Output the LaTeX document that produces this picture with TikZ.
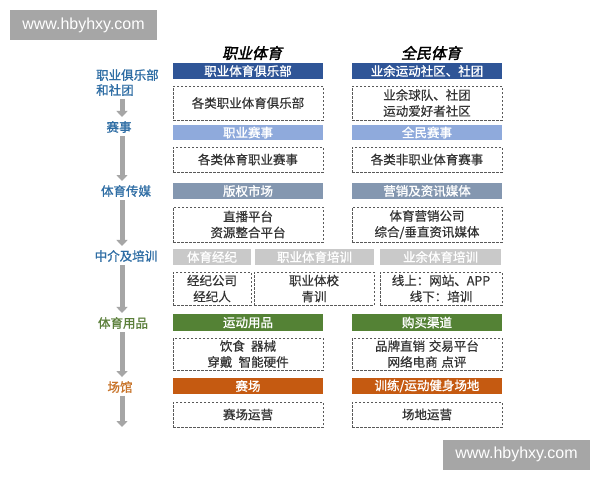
\documentclass[tikz,border=0pt]{standalone}
\usepackage{fontspec}
\setmainfont{Noto Sans CJK SC}
\newfontfamily\latinfont{Liberation Sans}
\newfontfamily\headfont[FakeSlant=0.22,FakeBold=2]{Noto Sans CJK SC}
\newfontfamily\medfont[FakeBold=1.2]{Noto Sans CJK SC}
\newfontfamily\boxfont[FakeBold=0.5]{Noto Sans CJK SC}
\usetikzlibrary{arrows.meta}
\definecolor{dblue}{HTML}{2F5597}
\definecolor{lblue}{HTML}{8FAADC}
\definecolor{gblue}{HTML}{8497B0}
\definecolor{lgray}{HTML}{C9C9C9}
\definecolor{bgreen}{HTML}{548235}
\definecolor{borange}{HTML}{C55A11}
\definecolor{labblue}{HTML}{2E6DA4}
\definecolor{labgreen}{HTML}{5B7F3A}
\definecolor{laborange}{HTML}{C8742A}
\definecolor{arrgray}{HTML}{A6A6A6}
\definecolor{wmgray}{HTML}{A6A6A6}
\definecolor{dashgray}{HTML}{595959}
\definecolor{txtgray}{HTML}{333333}
\tikzset{
  bar/.style={minimum width=150pt, minimum height=16pt, inner sep=0pt, text=white,
    font=\medfont\fontsize{12.5}{14}\selectfont},
  dbox/.style={draw=dashgray, line width=0.9pt, dash pattern=on 2.5pt off 1.5pt,
    minimum width=150pt, inner sep=0pt, align=center, text=txtgray,
    font=\boxfont\fontsize{12.5}{16}\selectfont},
  lab/.style={inner sep=0pt, font=\medfont\fontsize{12.5}{15}\selectfont},
  head/.style={inner sep=0pt, font=\headfont\fontsize{15}{17}\selectfont, text=black},
  flow/.style={draw=arrgray, line width=5pt, -{Triangle[width=11pt,length=6pt]},
    shorten <=3pt, shorten >=4pt},
  wm/.style={fill=wmgray, text=white, minimum width=147pt, minimum height=30pt,
    inner sep=0pt, font=\latinfont\fontsize{16}{18}\selectfont}
}
\begin{document}
\begin{tikzpicture}[x=1pt,y=-1pt]
\useasboundingbox[fill=white] (0,0) rectangle (600,480);

% watermarks
\node[wm] (wm1) at (83.5,25) {www.hbyhxy.com};
\node[wm] (wm2) at (516.5,454.5) {www.hbyhxy.com};

% headers
\node[head] (h1) at (252,53) {职业体育};
\node[head] (h2) at (431,53) {全民体育};

% left labels
\node[lab, text=labblue, align=left, anchor=west] (l1) at (96,82.5) {职业俱乐部\\和社团};
\node[lab, text=labblue] (l2) at (119,127) {赛事};
\node[lab, text=labblue] (l3) at (126,191) {体育传媒};
\node[lab, text=labblue] (l4) at (126,256) {中介及培训};
\node[lab, text=labgreen] (l5) at (123,323) {体育用品};
\node[lab, text=laborange] (l6) at (120,387) {场馆};
\coordinate (lend) at (122,431);

\draw[flow] (l1.south -| lend) -- (l2.north -| lend);
\draw[flow] (l2.south -| lend) -- (l3.north -| lend);
\draw[flow] (l3.south -| lend) -- (l4.north -| lend);
\draw[flow] (l4.south -| lend) -- (l5.north -| lend);
\draw[flow] (l5.south -| lend) -- (l6.north -| lend);
\draw[flow] (l6.south -| lend) -- (lend);

% row 1
\node[bar, fill=dblue] (b1l) at (248,71) {职业体育俱乐部};
\node[bar, fill=dblue] (b1r) at (427,71) {业余运动社区、社团};
\node[dbox, minimum height=34pt] (d1l) at (248,103) {各类职业体育俱乐部};
\node[dbox, minimum height=34pt] (d1r) at (427,103) {业余球队、社团\\运动爱好者社区};

% row 2
\node[bar, fill=lblue, minimum height=15pt] (b2l) at (248,132.5) {职业赛事};
\node[bar, fill=lblue, minimum height=15pt] (b2r) at (427,132.5) {全民赛事};
\node[dbox, minimum height=25pt] (d2l) at (248,159.5) {各类体育职业赛事};
\node[dbox, minimum height=25pt] (d2r) at (427,159.5) {各类非职业体育赛事};

% row 3
\node[bar, fill=gblue] (b3l) at (248,191) {版权市场};
\node[bar, fill=gblue] (b3r) at (427,191) {营销及资讯媒体};
\node[dbox, minimum height=35pt] (d3l) at (248,224.5) {直播平台\\资源整合平台};
\node[dbox, minimum height=35pt] (d3r) at (427,224.5) {体育营销公司\\综合/垂直资讯媒体};

% row 4
\node[bar, fill=lgray, minimum width=78pt] (b4a) at (212,257) {体育经纪};
\node[bar, fill=lgray, minimum width=119pt] (b4b) at (314.5,257) {职业体育培训};
\node[bar, fill=lgray, minimum width=121pt] (b4c) at (440.5,257) {业余体育培训};
\node[dbox, minimum width=78pt, minimum height=33pt] (d4a) at (212,288.5) {经纪公司\\经纪人};
\node[dbox, minimum width=120pt, minimum height=33pt] (d4b) at (314,288.5) {职业体校\\青训};
\node[dbox, minimum width=122pt, minimum height=33pt] (d4c) at (441,288.5) {线上：网站、APP\\线下：培训};

% row 5
\node[bar, fill=bgreen, minimum height=17pt] (b5l) at (248,322.5) {运动用品};
\node[bar, fill=bgreen, minimum height=17pt] (b5r) at (427,322.5) {购买渠道};
\node[dbox, minimum height=32pt] (d5l) at (248,354) {饮食\hspace{0.5em}器械\\穿戴\hspace{0.5em}智能硬件};
\node[dbox, minimum height=32pt] (d5r) at (427,354) {品牌直销\hspace{0.3em}交易平台\\网络电商\hspace{0.3em}点评};

% row 6
\node[bar, fill=borange] (b6l) at (248,386) {赛场};
\node[bar, fill=borange] (b6r) at (427,386) {训练/运动健身场地};
\node[dbox, minimum height=25pt] (d6l) at (248,414.5) {赛场运营};
\node[dbox, minimum height=25pt] (d6r) at (427,414.5) {场地运营};
\end{tikzpicture}
\end{document}
